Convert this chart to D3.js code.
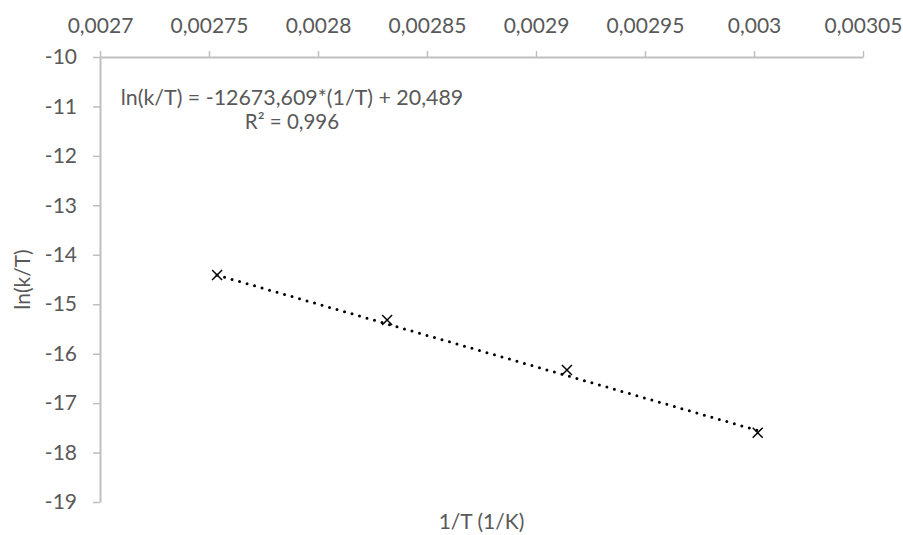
<!DOCTYPE html>
<html>
<head>
<meta charset="utf-8">
<script src="https://cdn.jsdelivr.net/npm/d3@7"></script>
<style>
  html, body { margin: 0; padding: 0; background: #ffffff; }
  svg { display: block; }
  text { font-family: "Lato", "Open Sans", sans-serif; fill: #595959; }
</style>
</head>
<body>
<svg id="chart" width="903" height="535"></svg>
<script>
// Measured points: 1/T (1/K) against ln(k/T)
const invT = [0.0027537, 0.0028317, 0.0029142, 0.0030017];
const lnKT = [-14.41, -15.32, -16.33, -17.60];

// Axis ticks
const xTickValues = [0.0027, 0.00275, 0.0028, 0.00285, 0.0029, 0.00295, 0.003, 0.00305];
const yTickValues = [-10, -11, -12, -13, -14, -15, -16, -17, -18, -19];

// Linear fit reported on the chart
const fitSlope = -12673.609;
const fitIntercept = 20.489;
const fitLabel = ["ln(k/T) = -12673,609*(1/T) + 20,489", "R\u00B2 = 0,996"];

const xTitle = "1/T (1/K)";
const yTitle = "ln(k/T)";

const svg = d3.select("#chart");
const axisColor = "#bfbfbf";
const fontSize = 21;

const x = d3.scaleLinear().domain([0.0027, 0.00305]).range([100, 863]);
const y = d3.scaleLinear().domain([-19, -10]).range([502, 57]);

const comma = v => String(v).replace(".", ",");

// Horizontal axis sits along the top of the plot (crosses at -10)
const xAxis = svg.append("g")
  .attr("transform", `translate(0,${y(-10)})`)
  .call(d3.axisTop(x).tickValues(xTickValues).tickFormat(comma)
    .tickSize(6).tickSizeOuter(0).tickPadding(18));

const yAxis = svg.append("g")
  .attr("transform", `translate(${x(0.0027)},0)`)
  .call(d3.axisLeft(y).tickValues(yTickValues).tickFormat(comma)
    .tickSize(7).tickSizeOuter(0).tickPadding(16));

[xAxis, yAxis].forEach(g => {
  g.select(".domain").attr("stroke", axisColor).attr("stroke-width", 2);
  g.selectAll(".tick line").attr("stroke", axisColor).attr("stroke-width", 1.5);
  g.selectAll(".tick text")
    .attr("font-family", "Lato, 'Open Sans', sans-serif")
    .attr("font-size", fontSize)
    .attr("fill", "#595959");
});
xAxis.selectAll(".tick text").attr("dy", 0);

// Axis titles
svg.append("text")
  .attr("x", (x.range()[0] + x.range()[1]) / 2)
  .attr("y", 529)
  .attr("text-anchor", "middle")
  .attr("font-size", fontSize)
  .text(xTitle);

svg.append("text")
  .attr("transform", `translate(30,${(y.range()[0] + y.range()[1]) / 2}) rotate(-90)`)
  .attr("text-anchor", "middle")
  .attr("font-size", fontSize)
  .text(yTitle);

// Dotted trendline across the data range
const xMin = d3.min(invT), xMax = d3.max(invT);
svg.append("line")
  .attr("x1", x(xMin)).attr("y1", y(fitSlope * xMin + fitIntercept))
  .attr("x2", x(xMax)).attr("y2", y(fitSlope * xMax + fitIntercept))
  .attr("stroke", "#000")
  .attr("stroke-width", 3)
  .attr("stroke-linecap", "round")
  .attr("stroke-dasharray", "0 7.8");

// Cross markers
const pts = invT.map((v, i) => ({ vx: v, vy: lnKT[i] }));
svg.append("g").selectAll("path")
  .data(pts)
  .join("path")
  .attr("d", d => {
    const cx = x(d.vx), cy = y(d.vy), r = 5;
    return `M${cx - r},${cy - r}L${cx + r},${cy + r}M${cx - r},${cy + r}L${cx + r},${cy - r}`;
  })
  .attr("stroke", "#000")
  .attr("stroke-width", 1.5)
  .attr("fill", "none");

// Fit equation label, one text element per line
svg.append("g").selectAll("text")
  .data(fitLabel)
  .join("text")
  .attr("text-anchor", "middle")
  .attr("font-size", (d, i) => i === 0 ? 21.4 : 20.5)
  .attr("x", 292)
  .attr("y", (d, i) => 105 + i * 23.5)
  .text(d => d);
</script>
</body>
</html>
